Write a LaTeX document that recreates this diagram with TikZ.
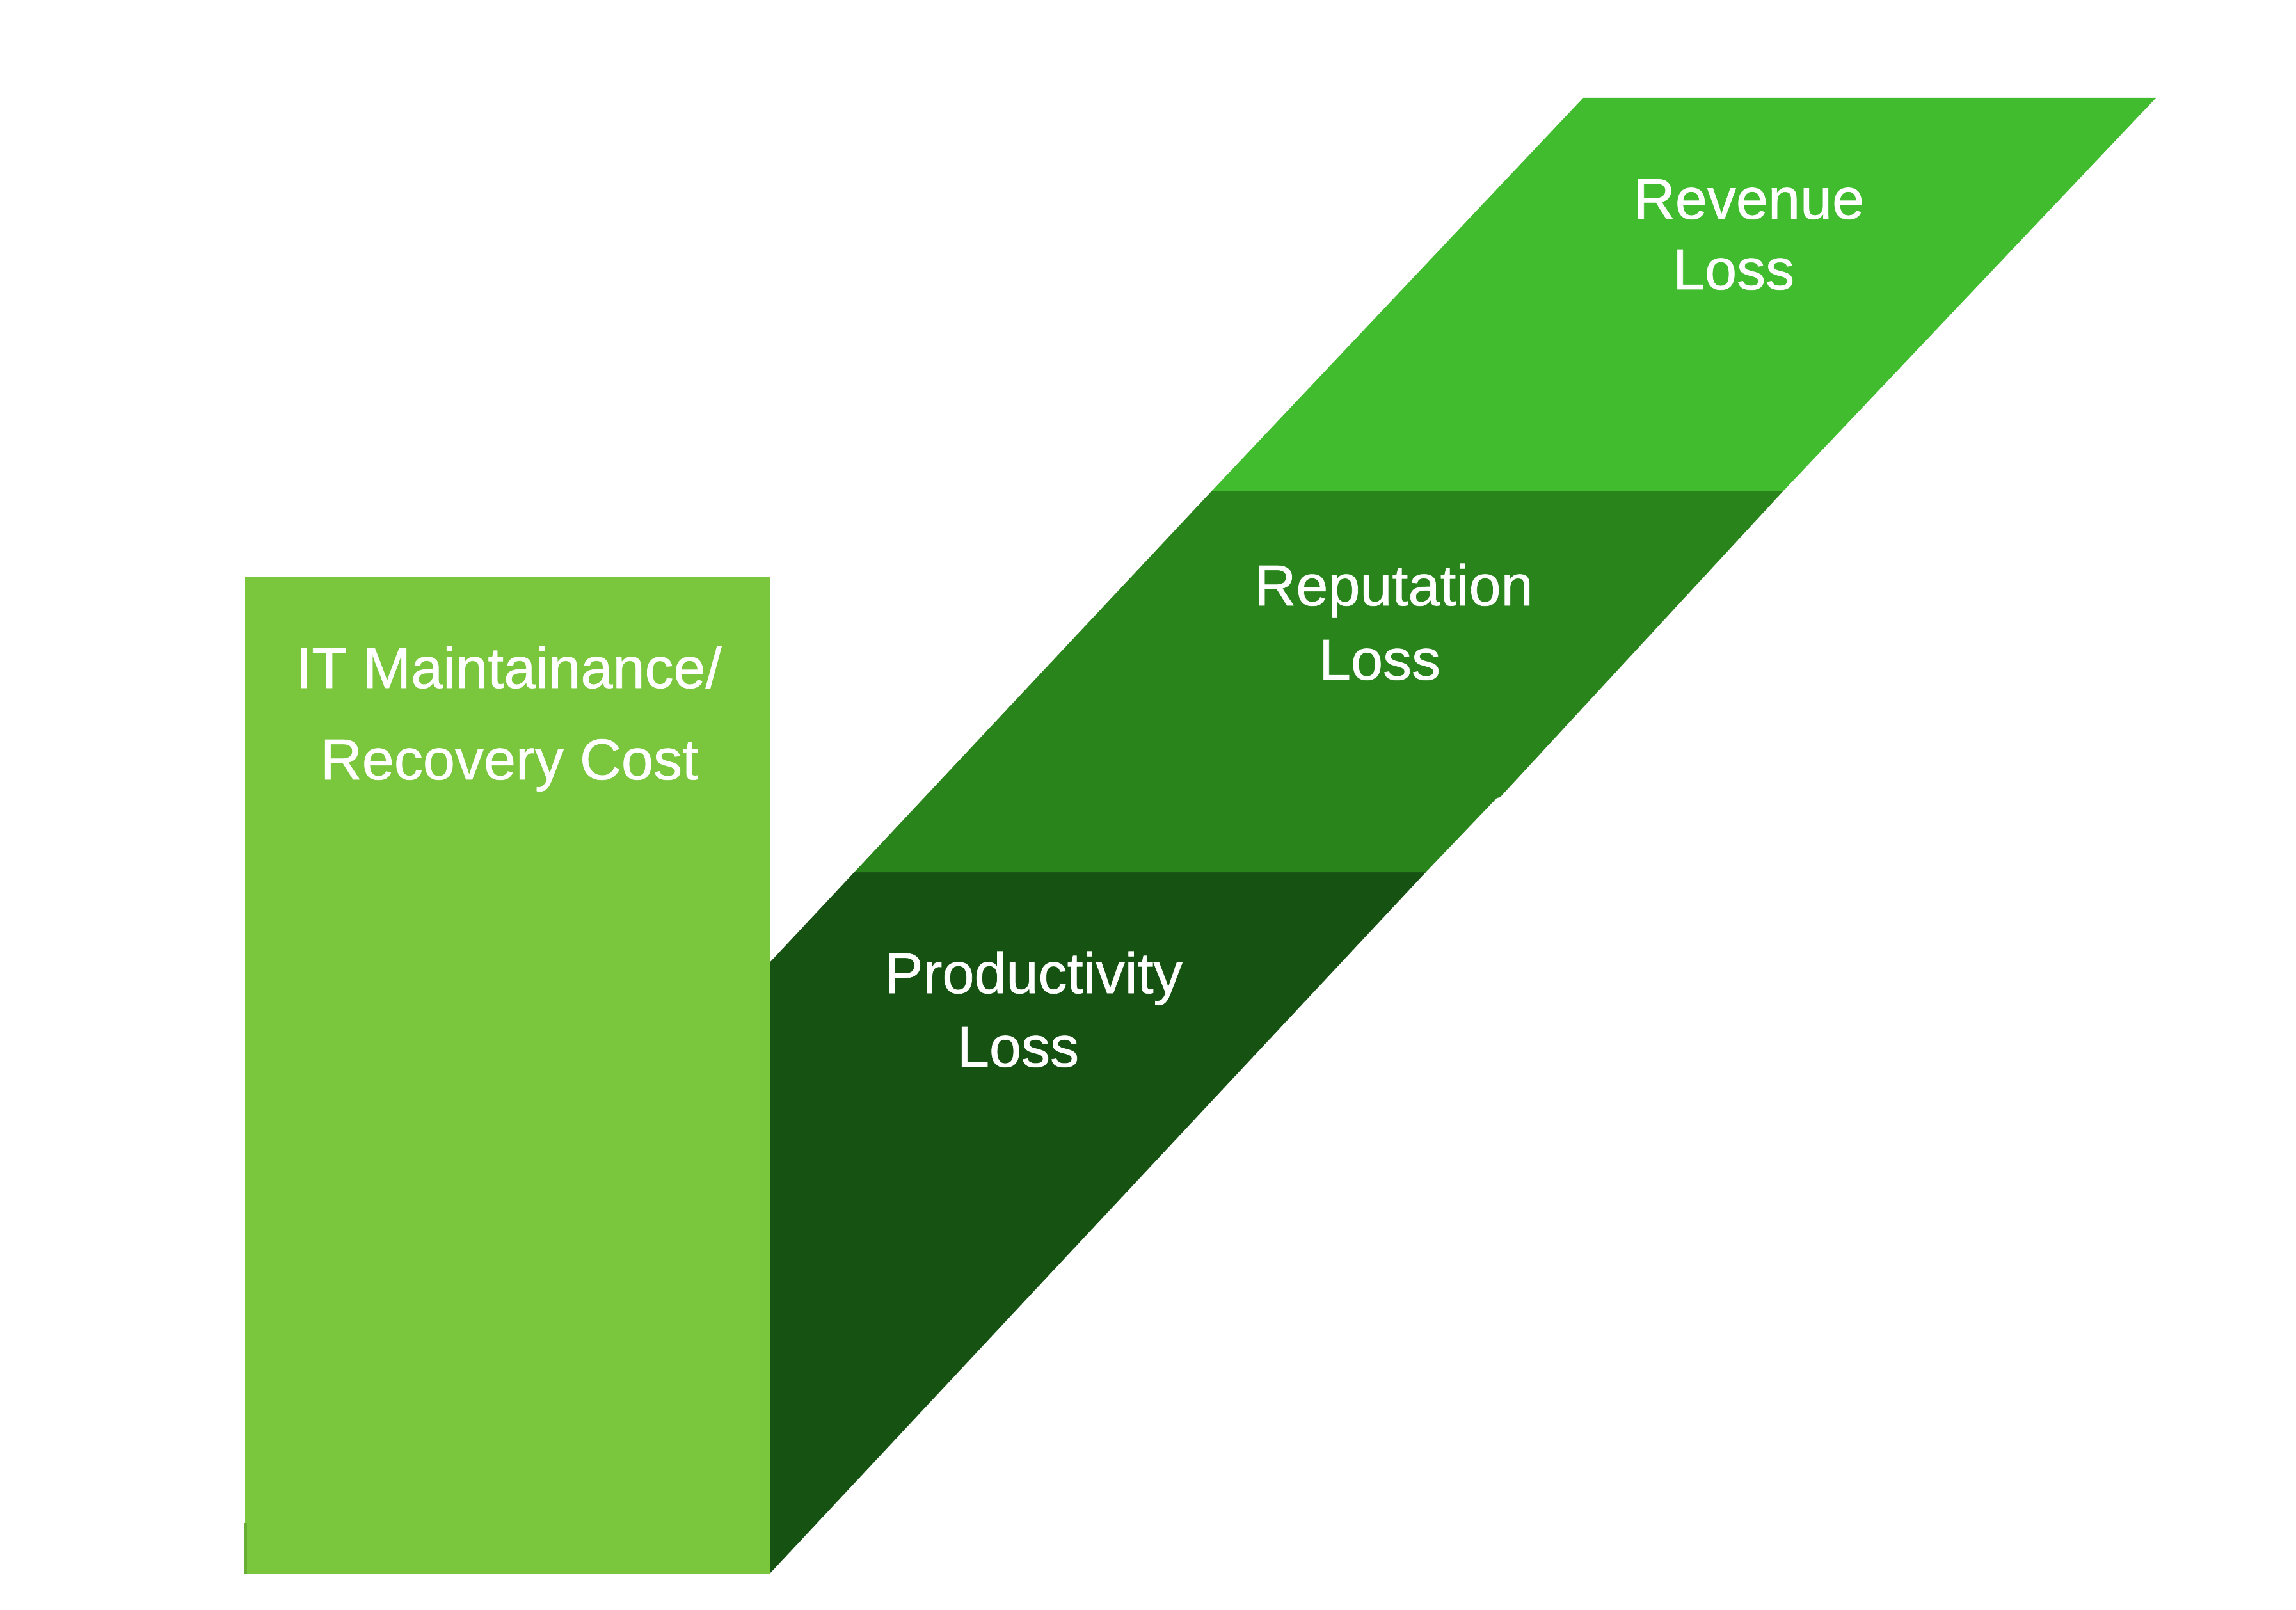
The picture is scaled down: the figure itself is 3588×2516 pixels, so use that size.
\documentclass[tikz,border=0pt]{standalone}
\usepackage{fontspec}
\setmainfont{Liberation Sans}
\newfontfamily\lblfont{Liberation Sans}[FakeBold=0.8]
\definecolor{itgreen}{HTML}{7AC73E}
\definecolor{revgreen}{HTML}{41BC2E}
\definecolor{repgreen}{HTML}{2A841C}
\definecolor{prodgreen}{HTML}{165313}
\definecolor{edgegreen}{HTML}{68AE34}
\tikzset{
  lbl/.style={anchor=base, inner sep=0pt, text=white, font=\lblfont\fontsize{25.6pt}{30pt}\selectfont}
}
\begin{document}
\begin{tikzpicture}[x=0.01cm, y=-0.01cm]
\useasboundingbox (0,0) rectangle (3588,2516);
% IT maintenance block
\fill[itgreen] (383,902) rectangle (1203,2459);
\draw[edgegreen, line width=1.2pt] (384,2380) -- (384,2459);
% Productivity loss band
\fill[prodgreen] (1203,2459) -- (2228,1363) -- (1335,1363) -- (1203,1504) -- cycle;
% Reputation loss band
\fill[repgreen] (1335,1363) -- (1893,768) -- (2786,768) -- (2344,1246) -- (2339,1247) -- (2228,1363) -- cycle;
% Revenue loss band
\fill[revgreen] (1893,768) -- (2474,153) -- (3369,153) -- (2786,768) -- cycle;
% Labels
\node[lbl] (it1) at (795,1075) {IT Maintainance/};
\node[lbl] (it2) at (796,1218) {Recovery Cost};
\node[lbl] (rev1) at (2733,342) {Revenue};
\node[lbl] (rev2) at (2709,452) {Loss};
\node[lbl] (rep1) at (2178,946) {Reputation};
\node[lbl] (rep2) at (2156,1062) {Loss};
\node[lbl] (prod1) at (1615,1552) {Productivity};
\node[lbl] (prod2) at (1591,1667) {Loss};
\end{tikzpicture}
\end{document}
